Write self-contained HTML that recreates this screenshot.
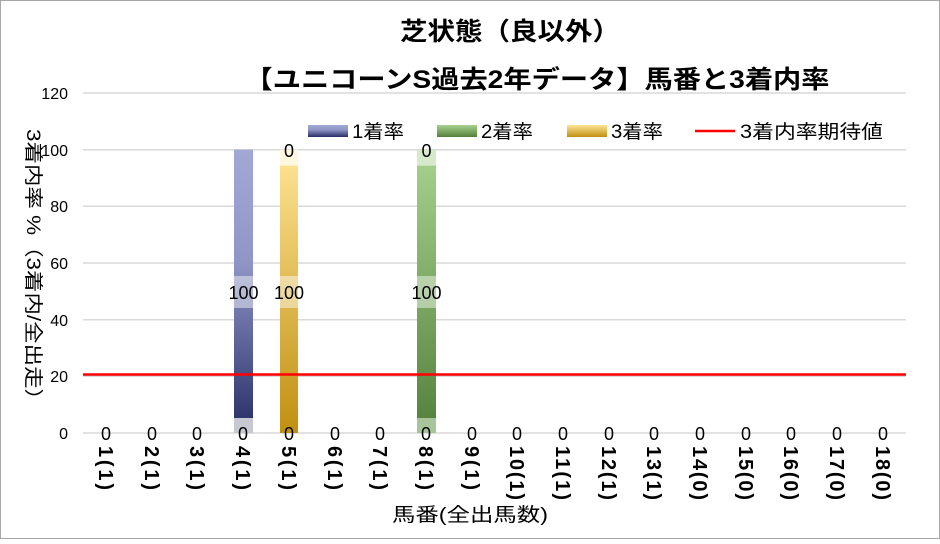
<!DOCTYPE html>
<html><head><meta charset="utf-8"><style>
body{margin:0;background:#fff}
text{font-family:"Liberation Sans","Noto Sans CJK JP",sans-serif}
</style></head><body>
<svg width="940" height="539" xmlns="http://www.w3.org/2000/svg">
<defs>
<linearGradient id="gb" x1="0" y1="0" x2="0" y2="1"><stop offset="0" stop-color="#a2a8d6"/><stop offset="0.4" stop-color="#8f95c6"/><stop offset="1" stop-color="#262d66"/></linearGradient>
<linearGradient id="gy" x1="0" y1="0" x2="0" y2="1"><stop offset="0" stop-color="#ffe596"/><stop offset="1" stop-color="#c09010"/></linearGradient>
<linearGradient id="gg" x1="0" y1="0" x2="0" y2="1"><stop offset="0" stop-color="#a8d38e"/><stop offset="1" stop-color="#53803a"/></linearGradient>
</defs>
<rect x="0.5" y="0.5" width="939" height="538" fill="#fff" stroke="#a6a6a6"/>
<text x="510" y="40" font-size="25" font-weight="bold" text-anchor="middle" fill="#000" textLength="220" lengthAdjust="spacingAndGlyphs">芝状態（良以外）</text>
<text x="537" y="88" font-size="25" font-weight="bold" text-anchor="middle" fill="#000" textLength="585" lengthAdjust="spacingAndGlyphs">【ユニコーンS過去2年データ】馬番と3着内率</text>
<g stroke="#d9d9d9" stroke-width="1.5">
<line x1="83" x2="906" y1="93" y2="93"/><line x1="83" x2="906" y1="149.7" y2="149.7"/><line x1="83" x2="906" y1="206.3" y2="206.3"/><line x1="83" x2="906" y1="263" y2="263"/><line x1="83" x2="906" y1="319.7" y2="319.7"/><line x1="83" x2="906" y1="376.3" y2="376.3"/><line x1="83" x2="906" y1="433" y2="433"/>
</g>
<g font-size="16" text-anchor="end" fill="#000">
<text x="68" y="99">120</text><text x="68" y="156">100</text><text x="68" y="212">80</text><text x="68" y="269">60</text><text x="68" y="326">40</text><text x="68" y="382">20</text><text x="68" y="439">0</text>
</g>
<text transform="translate(27,270) rotate(90)" font-size="19" text-anchor="middle" fill="#000" textLength="282" lengthAdjust="spacingAndGlyphs">3着内率 %（3着内/全出走）</text>
<rect x="234" y="149.7" width="19" height="283.3" fill="url(#gb)"/>
<rect x="234" y="276" width="19" height="32" fill="#fff" opacity="0.45"/>
<rect x="234" y="418" width="19" height="15" fill="#c8c8d0"/>
<rect x="280" y="149.7" width="18" height="283.3" fill="url(#gy)"/>
<rect x="280" y="149.7" width="18" height="16" fill="#fff8e0"/>
<rect x="280" y="276" width="18" height="32" fill="#fff" opacity="0.45"/>
<rect x="417" y="149.7" width="19" height="283.3" fill="url(#gg)"/>
<rect x="417" y="149.7" width="19" height="16" fill="#d6eacb"/>
<rect x="417" y="276" width="19" height="32" fill="#fff" opacity="0.45"/>
<rect x="417" y="418" width="19" height="15" fill="#a8c49a"/>
<line x1="83" x2="906" y1="374.5" y2="374.5" stroke="#ff0000" stroke-width="2.5"/>
<g font-size="18" text-anchor="middle" fill="#000">
<text x="243.5" y="299">100</text><text x="289" y="299">100</text><text x="426.5" y="299">100</text>
<text x="289" y="157">0</text><text x="426.5" y="157">0</text>
<text x="106" y="440">0</text><text x="152" y="440">0</text><text x="197" y="440">0</text><text x="243" y="440">0</text><text x="289" y="440">0</text><text x="335" y="440">0</text><text x="380" y="440">0</text><text x="426" y="440">0</text><text x="472" y="440">0</text><text x="517" y="440">0</text><text x="563" y="440">0</text><text x="609" y="440">0</text><text x="654" y="440">0</text><text x="700" y="440">0</text><text x="746" y="440">0</text><text x="791" y="440">0</text><text x="837" y="440">0</text><text x="883" y="440">0</text>
</g>
<g font-size="20" font-weight="bold" fill="#000" lengthAdjust="spacingAndGlyphs">
<text transform="translate(99,446) rotate(90)" textLength="44">1(1)</text>
<text transform="translate(145,446) rotate(90)" textLength="44">2(1)</text>
<text transform="translate(190,446) rotate(90)" textLength="44">3(1)</text>
<text transform="translate(236,446) rotate(90)" textLength="44">4(1)</text>
<text transform="translate(282,446) rotate(90)" textLength="44">5(1)</text>
<text transform="translate(328,446) rotate(90)" textLength="44">6(1)</text>
<text transform="translate(373,446) rotate(90)" textLength="44">7(1)</text>
<text transform="translate(419,446) rotate(90)" textLength="44">8(1)</text>
<text transform="translate(465,446) rotate(90)" textLength="44">9(1)</text>
<text transform="translate(510,446) rotate(90)" textLength="54">10(1)</text>
<text transform="translate(556,446) rotate(90)" textLength="54">11(1)</text>
<text transform="translate(602,446) rotate(90)" textLength="54">12(1)</text>
<text transform="translate(647,446) rotate(90)" textLength="54">13(1)</text>
<text transform="translate(693,446) rotate(90)" textLength="54">14(0)</text>
<text transform="translate(739,446) rotate(90)" textLength="54">15(0)</text>
<text transform="translate(784,446) rotate(90)" textLength="54">16(0)</text>
<text transform="translate(830,446) rotate(90)" textLength="54">17(0)</text>
<text transform="translate(876,446) rotate(90)" textLength="54">18(0)</text>
</g>
<text x="392" y="521" font-size="19" fill="#000" textLength="156" lengthAdjust="spacingAndGlyphs">馬番(全出馬数)</text>
<rect x="308" y="125" width="40" height="12" fill="url(#gb)"/>
<text x="352" y="138" font-size="19" fill="#000" textLength="52" lengthAdjust="spacingAndGlyphs">1着率</text>
<rect x="437" y="125" width="40" height="12" fill="url(#gg)"/>
<text x="481" y="138" font-size="19" fill="#000" textLength="52" lengthAdjust="spacingAndGlyphs">2着率</text>
<rect x="567" y="125" width="40" height="12" fill="url(#gy)"/>
<text x="611" y="138" font-size="19" fill="#000" textLength="52" lengthAdjust="spacingAndGlyphs">3着率</text>
<line x1="695" x2="735" y1="131" y2="131" stroke="#ff0000" stroke-width="2.5"/>
<text x="740" y="138" font-size="19" fill="#000" textLength="143" lengthAdjust="spacingAndGlyphs">3着内率期待値</text>
</svg>
</body></html>
